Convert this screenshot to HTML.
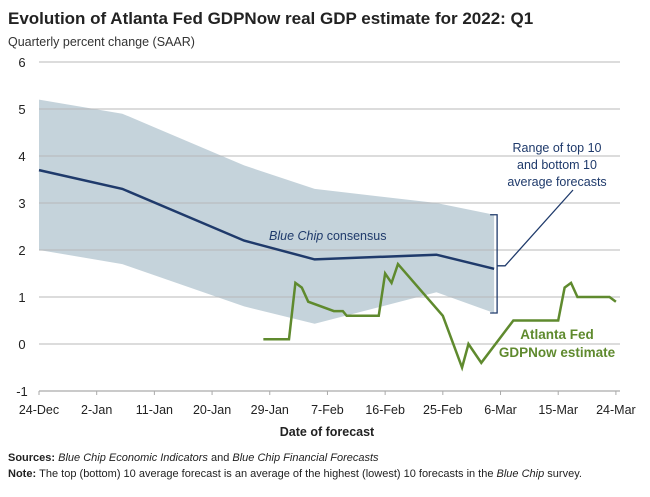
<!DOCTYPE html>
<html><head><meta charset="utf-8"><style>
body{margin:0;background:#fff;width:650px;height:497px;overflow:hidden;font-family:"Liberation Sans",sans-serif}
svg{display:block}
</style></head><body>
<svg width="650" height="497" xmlns="http://www.w3.org/2000/svg" font-family="Liberation Sans, sans-serif">
<text x="8" y="24" font-size="17" font-weight="bold" fill="#222">Evolution of Atlanta Fed GDPNow real GDP estimate for 2022: Q1</text>
<text x="8" y="46" font-size="12.5" fill="#333">Quarterly percent change (SAAR)</text>
<g id="band"></g>
<g id="grid"></g>
<g id="yt"></g>
<g id="xt"></g>
<g id="series"></g>
<text x="269" y="240" font-size="12.5" font-style="italic" fill="#1f3a6b">Blue Chip <tspan font-style="normal">consensus</tspan></text>
<text font-size="13.5" font-weight="bold" fill="#5f8a2e" text-anchor="middle"><tspan x="557" y="339">Atlanta Fed</tspan><tspan x="557" y="357">GDPNow estimate</tspan></text>
<text font-size="12.5" fill="#1f3a6b" text-anchor="middle"><tspan x="557" y="152">Range of top 10</tspan><tspan x="557" y="169">and bottom 10</tspan><tspan x="557" y="186">average forecasts</tspan></text>
<text x="327" y="436" font-size="12.5" font-weight="bold" fill="#222" text-anchor="middle">Date of forecast</text>
<text x="8" y="461" font-size="11" fill="#222"><tspan font-weight="bold">Sources: </tspan><tspan font-style="italic">Blue Chip Economic Indicators</tspan> and <tspan font-style="italic">Blue Chip Financial Forecasts</tspan></text>
<text x="8" y="477" font-size="11" fill="#222"><tspan font-weight="bold">Note: </tspan>The top (bottom) 10 average forecast is an average of the highest (lowest) 10 forecasts in the <tspan font-style="italic">Blue Chip</tspan> survey.</text>
</svg>
<script>
const yTicks=[-1,0,1,2,3,4,5,6];
const xTickLabels=["24-Dec","2-Jan","11-Jan","20-Jan","29-Jan","7-Feb","16-Feb","25-Feb","6-Mar","15-Mar","24-Mar"];
const xTickDays=[0,9,18,27,36,45,54,63,72,81,90];
const bcDays=[0,13,32,43,62,71];
const bcConsensus=[3.7,3.3,2.2,1.8,1.9,1.6];
const bcTop=[5.2,4.9,3.8,3.3,3.0,2.75];
const bcBottom=[2.0,1.7,0.8,0.43,1.1,0.66];
const gdpDays=[35,39,40,41,42,46,47.4,48,53,54,55,56,63,66,67,69,74,81,82,83,84,89,90];
const gdpValues=[0.1,0.1,1.3,1.2,0.9,0.7,0.7,0.6,0.6,1.5,1.3,1.7,0.6,-0.5,0.0,-0.4,0.5,0.5,1.2,1.3,1.0,1.0,0.9];
const NS="http://www.w3.org/2000/svg";
const X=d=>39+d*6.41, Y=v=>344-v*47;
function mk(p,t,a){const e=document.createElementNS(NS,t);for(const k in a)e.setAttribute(k,a[k]);document.getElementById(p).appendChild(e);return e;}
let pts=bcDays.map((d,i)=>X(d)+","+Y(bcTop[i]));
for(let i=bcDays.length-1;i>=0;i--)pts.push(X(bcDays[i])+","+Y(bcBottom[i]));
const band=mk("band","polygon",{points:pts.join(" "),fill:"#c5d3db"});


yTicks.forEach(v=>{
 const l=mk("grid","line",{x1:39,x2:620,y1:Y(v),y2:Y(v),stroke:v==-1?"#aaa":"#b8b8b8","stroke-width":1.3,"stroke-opacity":v==-1?1:0.8});
 
 
 const t=mk("yt","text",{x:22,y:Y(v)+5,"font-size":13,"text-anchor":"middle",fill:"#222"});t.textContent=v;
 
 
});
xTickDays.forEach((d,i)=>{
 const l=mk("xt","line",{x1:X(d),x2:X(d),y1:Y(-1),y2:Y(-1)+4,stroke:"#aaa"});
 
 
 const t=mk("xt","text",{x:X(d),y:414,"font-size":12.5,"text-anchor":"middle",fill:"#222"});t.textContent=xTickLabels[i];
 
 
});
const bl=mk("series","polyline",{points:bcDays.map((d,i)=>X(d)+","+Y(bcConsensus[i])).join(" "),fill:"none",stroke:"#1f3a6b","stroke-width":2.5});


const gl=mk("series","polyline",{points:gdpDays.map((d,i)=>X(d)+","+Y(gdpValues[i])).join(" "),fill:"none",stroke:"#5f8a2e","stroke-width":2.5,"stroke-linejoin":"miter"});


const lx=X(bcDays[5])+3, ty=Y(bcTop[5]), by=Y(bcBottom[5]), my=Y(bcConsensus[5])-3;
const br=mk("series","path",{d:`M${lx-7},${ty} H${lx} V${by} H${lx-7} M${lx},${my} H${lx+8} L573,190`,fill:"none",stroke:"#1f3a6b","stroke-width":1.3});


</script>
</body></html>
